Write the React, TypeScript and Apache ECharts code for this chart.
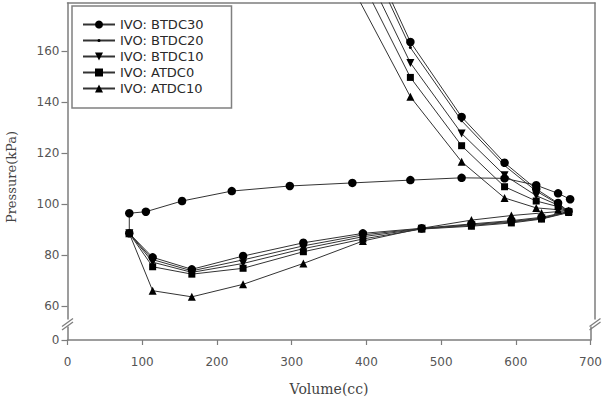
import React, { useEffect, useRef } from "react";
import * as echarts from "echarts";

// Legend names, in series order
const seriesNames = ["IVO: BTDC30", "IVO: BTDC20", "IVO: BTDC10", "IVO: ATDC0", "IVO: ATDC10"];

// Intake stroke, TDC -> BDC (volume in cc, pressure in kPa)
const intakeVolume = [82, 113, 165, 233, 313, 392, 470, 536, 589, 629, 665];
const intakeBTDC30 = [88.6, 79.2, 74.5, 79.7, 84.9, 88.6, 90.6, 92.3, 93.6, 94.9, 97.2];
const intakeBTDC20 = [88.6, 78.3, 73.9, 78.2, 83.7, 88.0, 90.5, 92.0, 93.3, 94.6, 97.0];
const intakeBTDC10 = [88.6, 77.3, 73.3, 76.8, 82.6, 87.3, 90.4, 91.7, 93.0, 94.4, 96.9];
const intakeATDC0 = [88.6, 75.5, 72.6, 74.9, 81.4, 86.4, 90.3, 91.4, 92.7, 94.2, 96.8];
const intakeATDC10 = [88.6, 66.1, 63.7, 68.6, 76.8, 85.6, 90.6, 93.8, 95.6, 96.6, 97.5];

// Compression stroke, BDC -> upward
const compVolume = [651, 622, 580, 523, 455, 377];
const compBTDC30 = [100.5, 106.0, 116.3, 134.3, 163.7, 213.8];
const compBTDC20 = [100.2, 105.2, 115.2, 132.8, 161.5, 210.9];
const compBTDC10 = [99.7, 103.4, 111.4, 127.8, 155.5, 203.1];
const compATDC0 = [99.1, 101.3, 106.9, 123.0, 149.8, 195.6];
const compATDC10 = [97.9, 98.6, 102.5, 116.7, 142.2, 185.7];

// Exhaust stroke of the BTDC30 case, BDC -> TDC
const exhaustVolume = [667, 651, 622, 580, 523, 455, 378, 295, 218, 152, 104, 82];
const exhaustBTDC30 = [102.0, 104.3, 107.5, 110.2, 110.4, 109.5, 108.4, 107.2, 105.2, 101.3, 97.1, 96.5];

// Axis ticks
const xTicks = { min: 0, max: 700, interval: 100 };
const yTicksUpper = [60, 80, 100, 120, 140, 160];
const yTicksLower = [0];

const pairs = (xs: number[], ys: number[]) => xs.map((x, i) => [x, ys[i]]);

const AXIS_COLOR = "#7d7d7d";
const TICK_FONT = "DejaVu Sans";

// tiny dot marker padded to an 8x8 box so the legend keeps it small
const SMALL_DOT = "path://M0,0M8,8M2.5,4a1.5,1.5 0 1 0 3,0a1.5,1.5 0 1 0 -3,0z";

const markers = [
  { symbol: "circle", size: 8.5, rotate: 0 },
  { symbol: SMALL_DOT, size: 8, rotate: 0 },
  { symbol: "triangle", size: 8, rotate: 180 },
  { symbol: "rect", size: 7, rotate: 0 },
  { symbol: "triangle", size: 8, rotate: 0 },
];

const seriesData = [
  [...pairs(exhaustVolume, exhaustBTDC30), ...pairs(intakeVolume, intakeBTDC30), ...pairs(compVolume, compBTDC30)],
  [...pairs(intakeVolume, intakeBTDC20), ...pairs(compVolume, compBTDC20)],
  [...pairs(intakeVolume, intakeBTDC10), ...pairs(compVolume, compBTDC10)],
  [...pairs(intakeVolume, intakeATDC0), ...pairs(compVolume, compATDC0)],
  [...pairs(intakeVolume, intakeATDC10), ...pairs(compVolume, compATDC10)],
];

const axisLine = { show: true, onZero: false, lineStyle: { color: AXIS_COLOR, width: 1.5 } };

const breakMark = (x: number) => [
  { type: "line", shape: { x1: x - 5.5, y1: 326.5, x2: x + 5.5, y2: 318.5 }, style: { stroke: AXIS_COLOR, lineWidth: 1.3 } },
  { type: "line", shape: { x1: x - 5.5, y1: 330, x2: x + 5.5, y2: 322 }, style: { stroke: AXIS_COLOR, lineWidth: 1.3 } },
];

const option = {
  animation: false,
  backgroundColor: "#ffffff",
  grid: [
    { left: 67.5, top: 3, width: 527.5, height: 316 },
    { left: 67.5, top: 327, width: 527.5, height: 15 },
  ],
  xAxis: [
    {
      gridIndex: 0,
      type: "value",
      position: "top",
      ...xTicks,
      axisLine,
      axisTick: { show: false },
      axisLabel: { show: false },
      splitLine: { show: false },
    },
    {
      gridIndex: 1,
      type: "value",
      position: "bottom",
      ...xTicks,
      axisLine,
      axisTick: { show: true, inside: false, length: 5, lineStyle: { color: AXIS_COLOR, width: 1.2 } },
      axisLabel: { margin: 16, fontFamily: TICK_FONT, fontSize: 12, color: "#555" },
      splitLine: { show: false },
      name: "Volume(cc)",
      nameLocation: "middle",
      nameGap: 42,
      nameTextStyle: { fontFamily: "DejaVu Serif", fontSize: 14, color: "#444" },
    },
  ],
  yAxis: [
    {
      gridIndex: 0,
      type: "value",
      position: "left",
      min: 55,
      max: 179,
      axisLine,
      axisTick: { show: true, inside: false, length: 6, customValues: yTicksUpper, lineStyle: { color: AXIS_COLOR, width: 1.2 } },
      axisLabel: { customValues: yTicksUpper, margin: 8, fontFamily: TICK_FONT, fontSize: 12, color: "#555" },
      splitLine: { show: false },
    },
    {
      gridIndex: 0,
      type: "value",
      position: "right",
      min: 55,
      max: 179,
      axisLine,
      axisTick: { show: false },
      axisLabel: { show: false },
      splitLine: { show: false },
    },
    {
      gridIndex: 1,
      type: "value",
      position: "left",
      min: 0,
      max: 5,
      axisLine,
      axisTick: { show: true, inside: false, length: 6, customValues: yTicksLower, lineStyle: { color: AXIS_COLOR, width: 1.2 } },
      axisLabel: { customValues: yTicksLower, margin: 8, fontFamily: TICK_FONT, fontSize: 12, color: "#555" },
      splitLine: { show: false },
    },
    {
      gridIndex: 1,
      type: "value",
      position: "right",
      min: 0,
      max: 5,
      axisLine,
      axisTick: { show: false },
      axisLabel: { show: false },
      splitLine: { show: false },
    },
  ],
  legend: {
    orient: "vertical",
    left: 72,
    top: 6,
    padding: [12, 28, 13, 10],
    itemWidth: 32,
    itemHeight: 10,
    itemGap: 3,
    backgroundColor: "#ffffff",
    borderColor: "#808080",
    borderWidth: 1.5,
    borderRadius: 0,
    textStyle: { fontFamily: TICK_FONT, fontSize: 13, color: "#2a2a2a" },
    data: seriesNames,
  },
  graphic: [
    ...breakMark(67.5),
    ...breakMark(595),
    {
      type: "text",
      x: 11,
      y: 177,
      rotation: Math.PI / 2,
      style: {
        text: "Pressure(kPa)",
        fontFamily: "DejaVu Serif",
        fontSize: 13,
        fill: "#444",
        align: "center",
        verticalAlign: "middle",
      },
    },
  ],
  series: seriesNames.map((name, i) => ({
    name,
    type: "line",
    xAxisIndex: 0,
    yAxisIndex: 0,
    data: seriesData[i],
    clip: true,
    symbol: markers[i].symbol,
    symbolSize: markers[i].size,
    symbolRotate: markers[i].rotate,
    showSymbol: true,
    showAllSymbol: true,
    lineStyle: { color: "#333", width: 1 },
    itemStyle: { color: "#000" },
    emphasis: { disabled: true },
  })),
};

export default function App() {
  const ref = useRef<HTMLDivElement>(null);
  useEffect(() => {
    if (!ref.current) return;
    const chart = echarts.init(ref.current, undefined, { renderer: "svg" });
    chart.setOption(option as any);
    return () => chart.dispose();
  }, []);
  return <div ref={ref} style={{ position: "fixed", left: 0, top: 0, width: 605, height: 397 }} />;
}
